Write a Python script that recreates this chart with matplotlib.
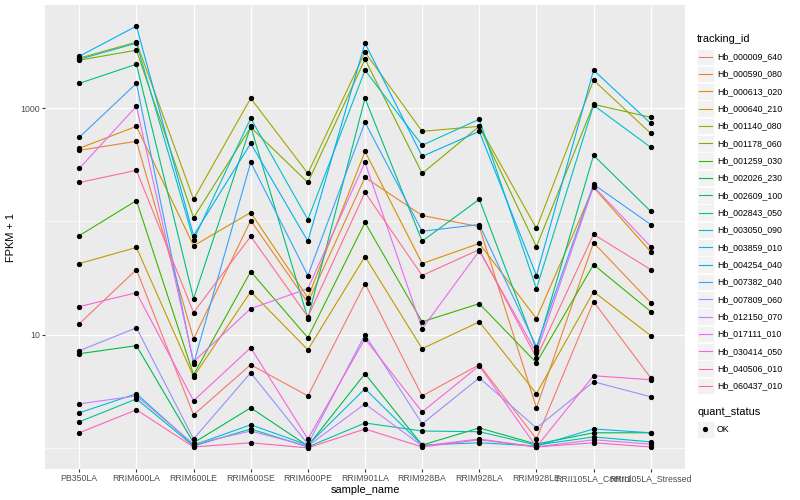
import matplotlib
matplotlib.use("Agg")
import matplotlib.pyplot as plt
from matplotlib.lines import Line2D
from matplotlib.patches import Rectangle
import numpy as np

plt.rcParams["font.family"] = ["Liberation Sans", "DejaVu Sans"]

samples = [
    "PB350LA", "RRIM600LA", "RRIM600LE", "RRIM600SE", "RRIM600PE", "RRIM901LA",
    "RRIM928BA", "RRIM928LA", "RRIM928LE", "RRII105LA_Control", "RRII105LA_Stressed",
]

tracking_ids = [
    "Hb_000009_640", "Hb_000590_080", "Hb_000613_020", "Hb_000640_210",
    "Hb_001140_080", "Hb_001178_060", "Hb_001259_030", "Hb_002026_230",
    "Hb_002609_100", "Hb_002843_050", "Hb_003050_090", "Hb_003859_010",
    "Hb_004254_040", "Hb_007382_040", "Hb_007809_060", "Hb_012150_070",
    "Hb_017111_010", "Hb_030414_050", "Hb_040506_010", "Hb_060437_010",
]

# ggplot default hue palette for 20 levels
line_colors = [
    "#F8766D", "#EA8331", "#D89000", "#C09B00", "#A3A500", "#7CAE00",
    "#39B600", "#00BB4E", "#00BF7D", "#00C1A3", "#00BFC4", "#00BAE0",
    "#00B0F6", "#35A2FF", "#9590FF", "#C77CFF", "#E76BF3", "#FA62DB",
    "#FF62BC", "#FF6C91",
]

# FPKM + 1 per sample (same order as samples)
hb_000009_640 = [12.5, 37.6, 1.96, 5.43, 2.88, 28.3, 2.88, 5.43, 1.20, 19.6, 4.16]
hb_000590_080 = [425, 511, 9.2, 102, 19.2, 245, 113, 90, 2.26, 65, 19.2]
hb_000613_020 = [443, 693, 61, 120, 21.2, 416, 42.5, 64, 13.9, 200, 54]
hb_000640_210 = [42.5, 59, 4.25, 24.0, 7.36, 49, 7.52, 13.0, 3.01, 24.0, 9.8]
hb_001140_080 = [2770, 3840, 157, 1225, 266, 3130, 625, 693, 87, 1770, 601]
hb_001178_060 = [2660, 3260, 108, 679, 221, 2710, 266, 693, 60, 1084, 832]
hb_001259_030 = [75, 153, 4.43, 36.1, 9.4, 98, 13.0, 18.8, 5.65, 41.6, 16.0]
hb_002026_230 = [6.79, 8.0, 1.11, 2.26, 1.04, 4.52, 1.06, 1.50, 1.08, 1.36, 1.36]
hb_002609_100 = [1660, 2450, 20.8, 693, 13.9, 1225, 67, 157, 7.36, 384, 123]
hb_002843_050 = [1.70, 2.71, 1.04, 1.47, 1.02, 1.66, 1.41, 1.39, 1.06, 1.25, 1.13]
hb_003050_090 = [2710, 3760, 69, 816, 104, 2170, 471, 800, 25.5, 1063, 452]
hb_003859_010 = [2.04, 3.01, 1.06, 1.60, 1.06, 3.33, 1.06, 1.11, 1.04, 1.47, 1.36]
hb_004254_040 = [2880, 5320, 75, 490, 67, 3760, 376, 625, 33.3, 2170, 736]
hb_007382_040 = [554, 1660, 5.54, 333, 33.3, 752, 82, 94, 7.83, 213, 94]
hb_007809_060 = [7.21, 11.5, 1.20, 4.61, 1.08, 10.0, 1.63, 4.16, 1.50, 3.84, 2.83]
hb_012150_070 = [2.45, 2.88, 1.08, 1.41, 1.04, 2.45, 1.04, 1.20, 1.02, 1.18, 1.08]
hb_017111_010 = [294, 1042, 5.77, 17.0, 25.5, 333, 11.3, 55, 6.93, 204, 60]
hb_030414_050 = [17.7, 23.5, 2.61, 7.67, 1.20, 9.2, 2.08, 5.32, 1.02, 4.34, 4.00]
hb_040506_010 = [1.36, 2.17, 1.02, 1.11, 1.00, 1.47, 1.02, 1.18, 1.02, 1.11, 1.02]
hb_060437_010 = [221, 283, 15.7, 74, 14.4, 181, 33.3, 56.5, 6.26, 77, 37.6]

series = [
    hb_000009_640, hb_000590_080, hb_000613_020, hb_000640_210, hb_001140_080,
    hb_001178_060, hb_001259_030, hb_002026_230, hb_002609_100, hb_002843_050,
    hb_003050_090, hb_003859_010, hb_004254_040, hb_007382_040, hb_007809_060,
    hb_012150_070, hb_017111_010, hb_030414_050, hb_040506_010, hb_060437_010,
]

y_breaks = [10, 1000]
y_minor = [1, 100]

PANEL_BG = "#EBEBEB"
KEY_BG = "#F2F2F2"
TEXT_GREY = "#4D4D4D"
W, H = 800, 500


def px_box(x0, y0, x1, y1):
    return [x0 / W, 1 - y1 / H, (x1 - x0) / W, (y1 - y0) / H]


fig = plt.figure(figsize=(W / 100, H / 100), dpi=100)
ax = fig.add_axes(px_box(45, 5, 685, 469))
ax.set_facecolor(PANEL_BG)
for side in ax.spines.values():
    side.set_visible(False)

xs = np.arange(len(samples))
for vals, color in zip(series, line_colors):
    ax.plot(xs, vals, color=color, lw=0.8, zorder=3)
for vals in series:
    ax.plot(xs, vals, ls="none", marker="o", ms=2.8, color="black", zorder=4)

ax.set_yscale("log")
ax.set_yticks(y_breaks)
ax.set_yticklabels([str(b) for b in y_breaks])
ax.set_yticks(y_minor, minor=True)
ax.set_xticks(xs)
ax.set_xticklabels(samples)

# ggplot-style 5% expansion of the (log) data range, set after the ticks
logs = np.log10(np.concatenate([np.asarray(v, float) for v in series]))
lo, hi = logs.min(), logs.max()
pad = 0.05 * (hi - lo)
ax.set_ylim(10 ** (lo - pad), 10 ** (hi + pad))
ax.set_xlim(-0.6, len(samples) - 0.4)

ax.tick_params(axis="both", which="major", length=2.0, width=0.8, color="#333333",
               labelsize=6.3, labelcolor=TEXT_GREY, pad=1.5)
ax.tick_params(axis="both", which="minor", length=0)
ax.yaxis.set_minor_formatter(plt.NullFormatter())
ax.grid(which="major", color="white", lw=0.9, zorder=1)
ax.grid(which="minor", axis="y", color="white", lw=0.45, zorder=1)
ax.set_axisbelow(True)

ax.set_xlabel("sample_name", fontsize=7.9, color="black", labelpad=1.5)
ax.set_ylabel("FPKM + 1", fontsize=7.9, color="black", labelpad=3)

# legend, laid out in pixel space on an overlay axes
lax = fig.add_axes([0, 0, 1, 1])
lax.set_xlim(0, W)
lax.set_ylim(H, 0)
lax.axis("off")

lax.text(697, 39, "tracking_id", fontsize=7.9, va="center", ha="left")
first_y, step = 56.8, 17.33
for i, (name, color) in enumerate(zip(tracking_ids, line_colors)):
    cy = first_y + i * step
    lax.add_patch(Rectangle((697, cy - 8.3), 16.6, 16.6, facecolor=KEY_BG,
                            edgecolor="white", lw=0.5))
    lax.add_line(Line2D([698.5, 711.5], [cy, cy], color=color, lw=0.8))
    lax.text(717, cy, name, fontsize=6.3, va="center", ha="left")

lax.text(697, 412, "quant_status", fontsize=7.9, va="center", ha="left")
lax.add_patch(Rectangle((697, 421), 16.6, 16.6, facecolor=KEY_BG,
                        edgecolor="white", lw=0.5))
lax.plot([705.3], [429.3], ls="none", marker="o", ms=2.8, color="black")
lax.text(717, 429.3, "OK", fontsize=6.3, va="center", ha="left")

fig.savefig("out.png", dpi=100, facecolor="white")
